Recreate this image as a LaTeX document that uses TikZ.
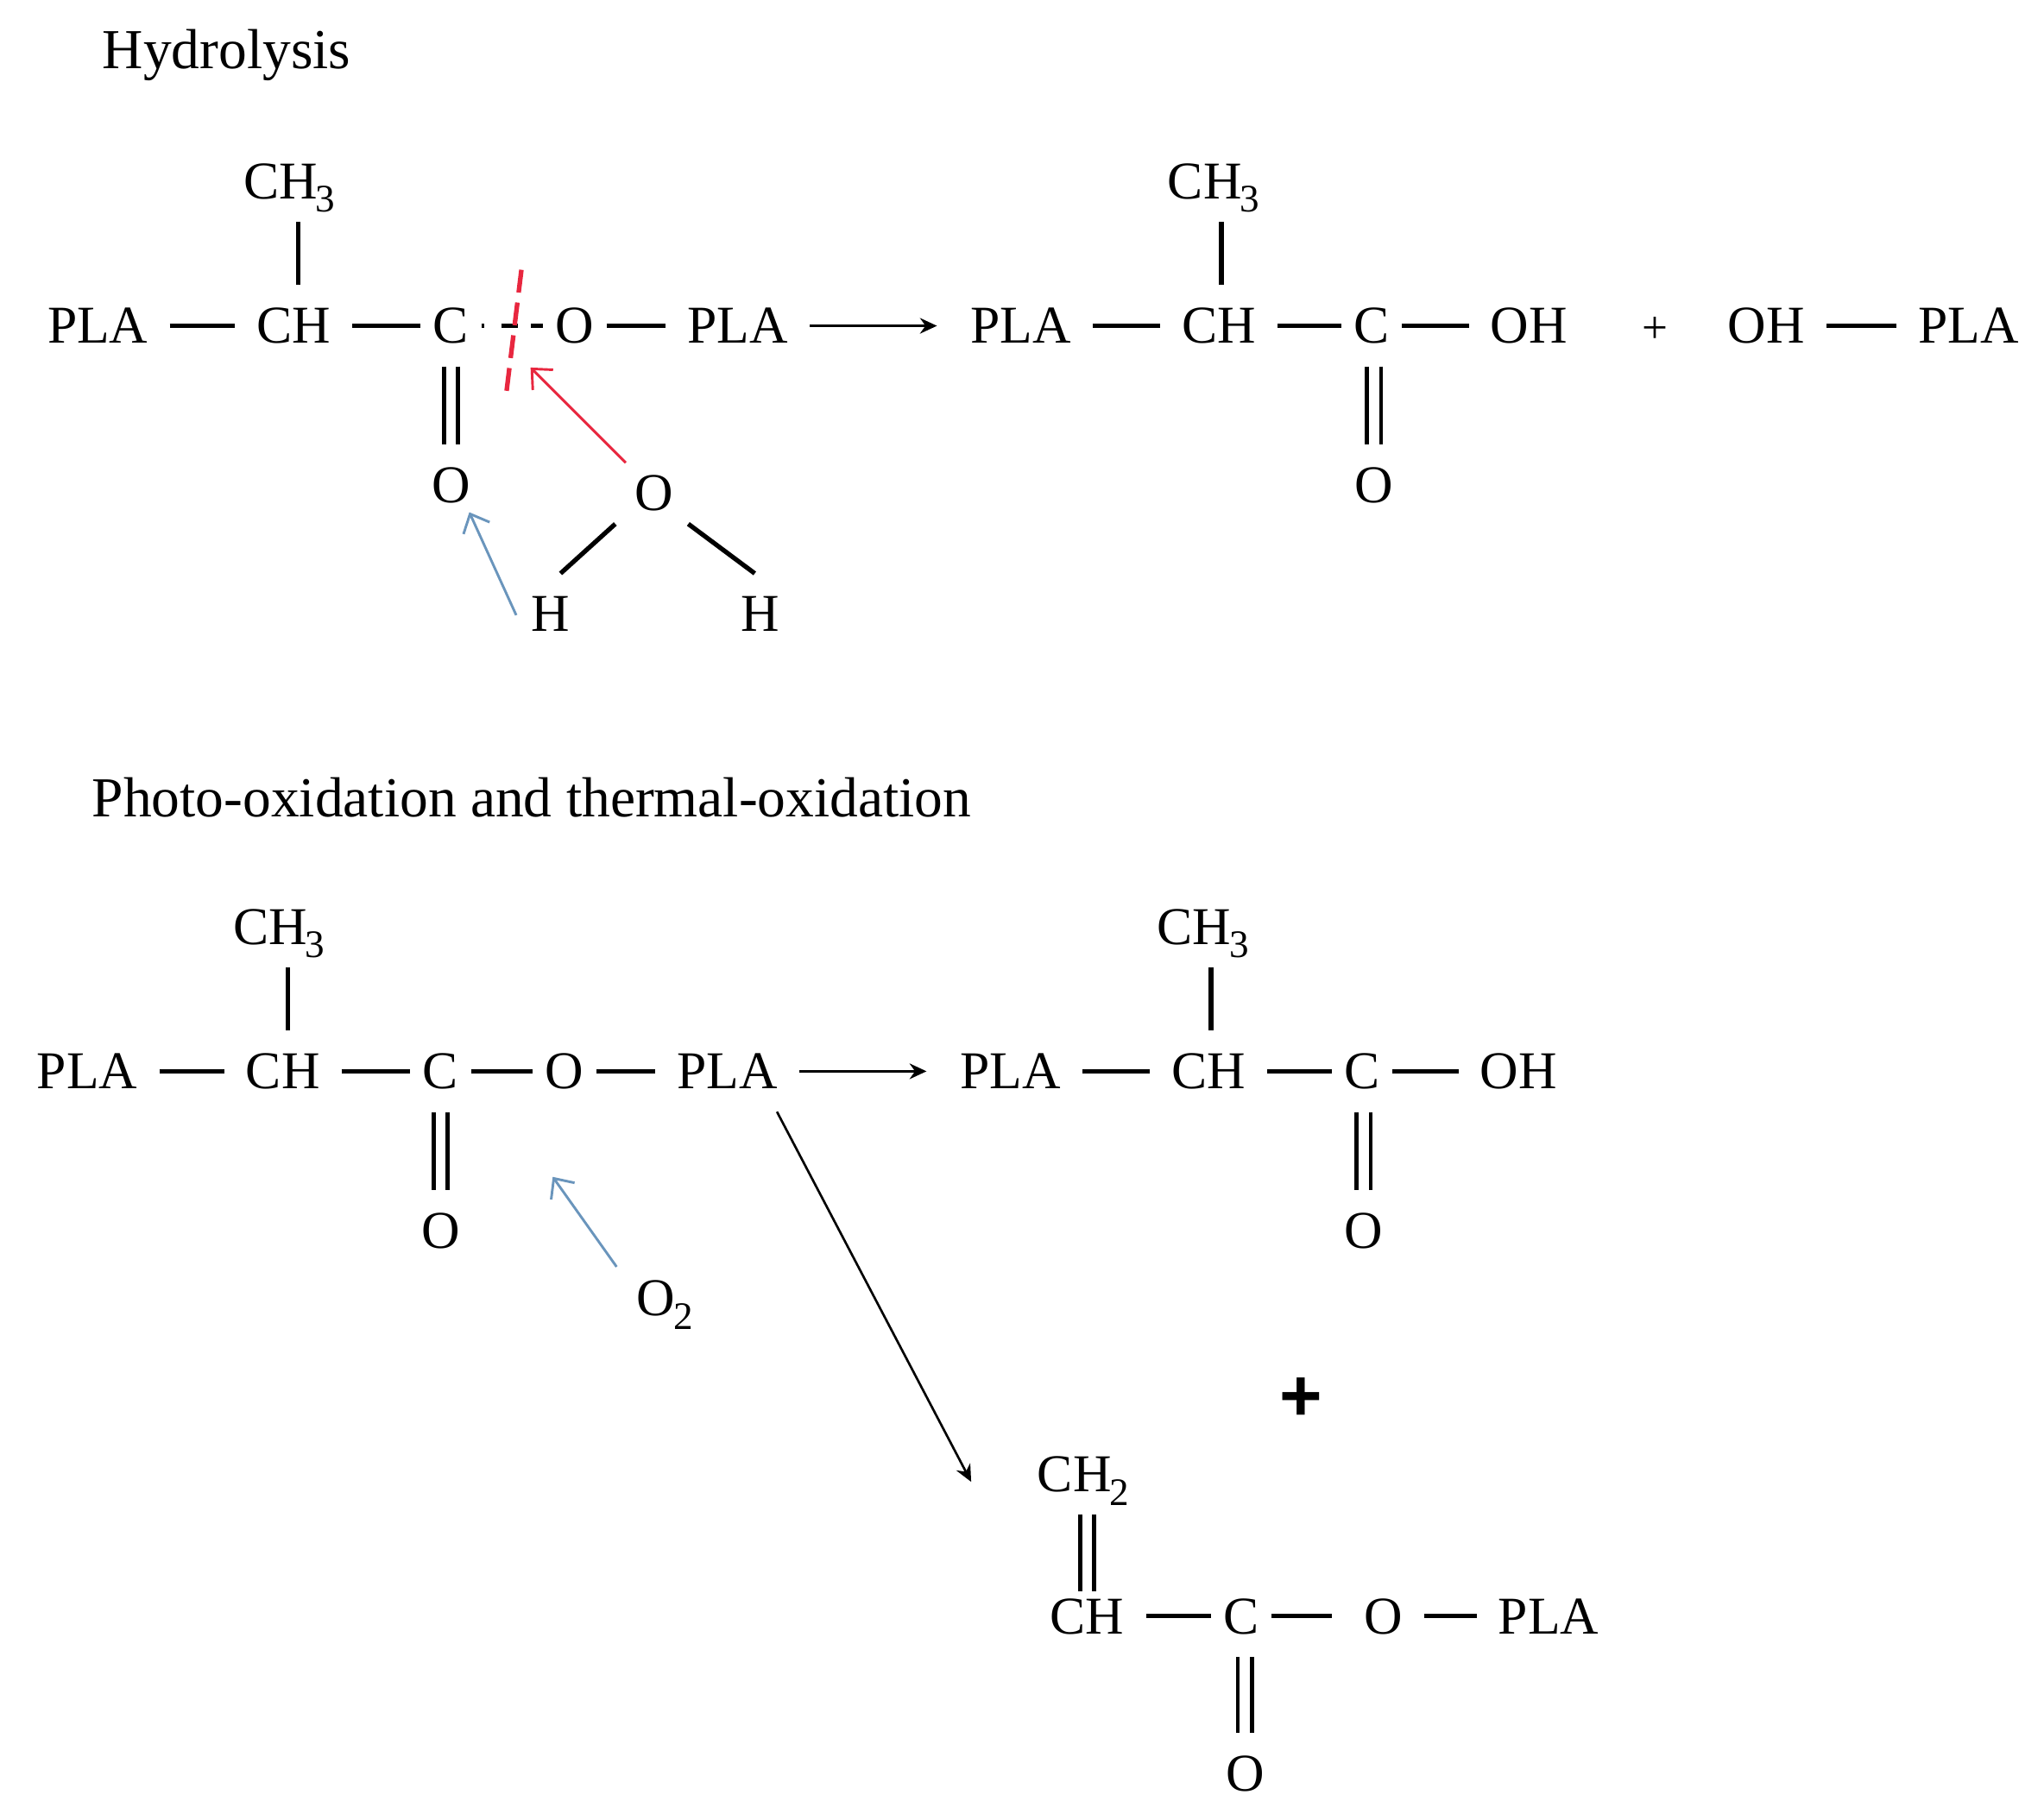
\documentclass[tikz,border=0pt]{standalone}
\usepackage{fontspec}
\usetikzlibrary{arrows.meta}
\setmainfont{Liberation Serif}
\setsansfont{Liberation Sans}
\newcommand{\subdigit}[1]{\raisebox{-.55ex}{\kern-.4pt\fontsize{8.5}{9}\selectfont #1}}
\definecolor{cutred}{HTML}{E8273F}
\definecolor{hitblue}{HTML}{6A95BC}
\tikzset{
	atom/.style={font=\fontsize{11.6}{14}\selectfont, inner xsep=.16cm, inner ysep=.17cm, text height=.27cm, text depth=0pt},
	tight/.style={atom, inner xsep=.09cm},
	title/.style={font=\fontsize{12.33}{15}\selectfont, anchor=west, inner sep=0pt},
	bond/.style={line width=1pt},
	react/.style={line width=.5pt, -{Stealth[length=1.3mm,width=1.2mm]}, shorten >=.09cm},
	attack/.style={line width=.55pt, -{Straight Barb[length=1.2mm,width=2.2mm]}}
}
\newcommand{\dblbond}[2]{
	\foreach \s in {-.055,.055}
		\draw[bond, line width=.9pt] ([xshift=\s cm]#2.north |- #1.south) -- ([xshift=\s cm]#2.north);
}
\begin{document}
\begin{tikzpicture}[x=.01cm, y=-.01cm]
	\useasboundingbox (0,0) rectangle (1568,1396);
	\node[title] (hydro) at (78,42) {Hydrolysis};
	\node[title] (photo) at (70,612) {Photo-oxidation and thermal-oxidation};
	% hydrolysis row
	\foreach \n/\x/\lab/\st in {pa/75/PLA/atom, cha/225/CH/atom, ca/346/C/tight, oa/441/O/tight, pb/566/PLA/atom,
		pc/783/PLA/atom, chc/935/CH/atom, cc/1052/C/tight, ohc/1173/OH/atom, ohd/1355/OH/atom, pd/1510/PLA/atom}
		\node[\st] (\n) at (\x,250) {\lab};
	\node[atom] (mea) at (222,139) {CH\subdigit{3}};
	\node[atom] (mec) at (931,139) {CH\subdigit{3}};
	\node[atom] (dba) at (346,372) {O};
	\node[atom] (dbc) at (1054,372) {O};
	\node[atom] (plus) at (1270,250) {\fontsize{10}{10}\selectfont +};
	\node[atom] (ow) at (502,378) {O};
	\node[atom] (ha) at (422,471) {H};
	\node[atom] (hb) at (583,471) {H};
	% oxidation rows
	\foreach \n/\x/\lab/\st in {pe/67/PLA/atom, che/217/CH/atom, ce/338/C/tight, oe/433/O/tight, pf/558/PLA/atom,
		pg/775/PLA/atom, chg/927/CH/atom, cg/1045/C/tight, ohg/1165/OH/atom}
		\node[\st] (\n) at (\x,822) {\lab};
	\node[atom] (mee) at (214,711) {CH\subdigit{3}};
	\node[atom] (meg) at (923,711) {CH\subdigit{3}};
	\node[atom] (dbe) at (338,944) {O};
	\node[atom] (dbg) at (1046,944) {O};
	\node[atom] (otwo) at (510,996) {O\subdigit{2}};
	\node[font=\fontsize{16}{16}\selectfont\sffamily\bfseries, inner sep=0pt] (bigplus) at (998,1074) {+};
	\foreach \n/\x/\lab/\st in {chi/834/CH/atom, ci/952/C/tight, oi/1061/O/atom, pi/1188/PLA/atom}
		\node[\st] (\n) at (\x,1240) {\lab};
	\node[atom] (chj) at (831,1131) {CH\subdigit{2}};
	\node[atom] (dbi) at (955,1361) {O};
	% single bonds
	\foreach \a/\b in {pa/cha, cha/ca, oa/pb, pc/chc, chc/cc, cc/ohc, ohd/pd,
		pe/che, che/ce, ce/oe, oe/pf, pg/chg, chg/cg, cg/ohg,
		chi/ci, oi/pi}
		\draw[bond] (\a) -- (\b);
	\draw[bond, shorten >=.08cm] (ci) -- (oi);
	\draw[bond, dash pattern=on .6pt off 3.7pt on 3.7pt off 2.8pt on 3.7pt off 20pt] (ca) -- (oa);
	\foreach \a/\b/\s in {mea/cha/.04, mec/chc/.02, mee/che/.04, meg/chg/.02}
		\draw[bond] ([xshift=\s cm]\b.north |- \a.south) -- ([xshift=\s cm]\b.north);
	\draw[bond] ([shift={(-30,24)}]ow.center) -- ([shift={(8,-31)}]ha.center);
	\draw[bond] ([shift={(26,24)}]ow.center) -- ([shift={(-4,-31)}]hb.center);
	% double bonds
	\dblbond{ca}{dba}
	\dblbond{cc}{dbc}
	\dblbond{ce}{dbe}
	\dblbond{cg}{dbg}
	\dblbond{ci}{dbi}
	\foreach \s in {-.055,.055}
		\draw[bond, line width=.9pt, shorten >=-.12cm] ([xshift=\s cm]chi.north |- chj.south) -- ([xshift=\s cm]chi.north);
	% reaction arrows
	\draw[react] (pb) -- (pc);
	\draw[react] (pf) -- (pg);
	\coordinate (fork) at (745,1137);
	\draw[react, shorten >=0pt] ([shift={(38,31)}]pf.center) -- (fork);
	% cut and attacks
	\coordinate (cuttop) at (400,207);
	\coordinate (cutend) at (388,305);
	\coordinate (hit) at (407,282);
	\coordinate (gap) at (424,903);
	\draw[cutred, line width=1pt, dash pattern=on 5pt off 2.2pt] (cuttop) -- (cutend);
	\draw[attack, cutred] ([shift={(-22,-23)}]ow.center) -- (hit);
	\draw[attack, hitblue] ([shift={(-26,1)}]ha.center) -- ([shift={(14,21)}]dba.center);
	\draw[attack, hitblue] ([shift={(-37,-24)}]otwo.center) -- (gap);
\end{tikzpicture}
\end{document}
